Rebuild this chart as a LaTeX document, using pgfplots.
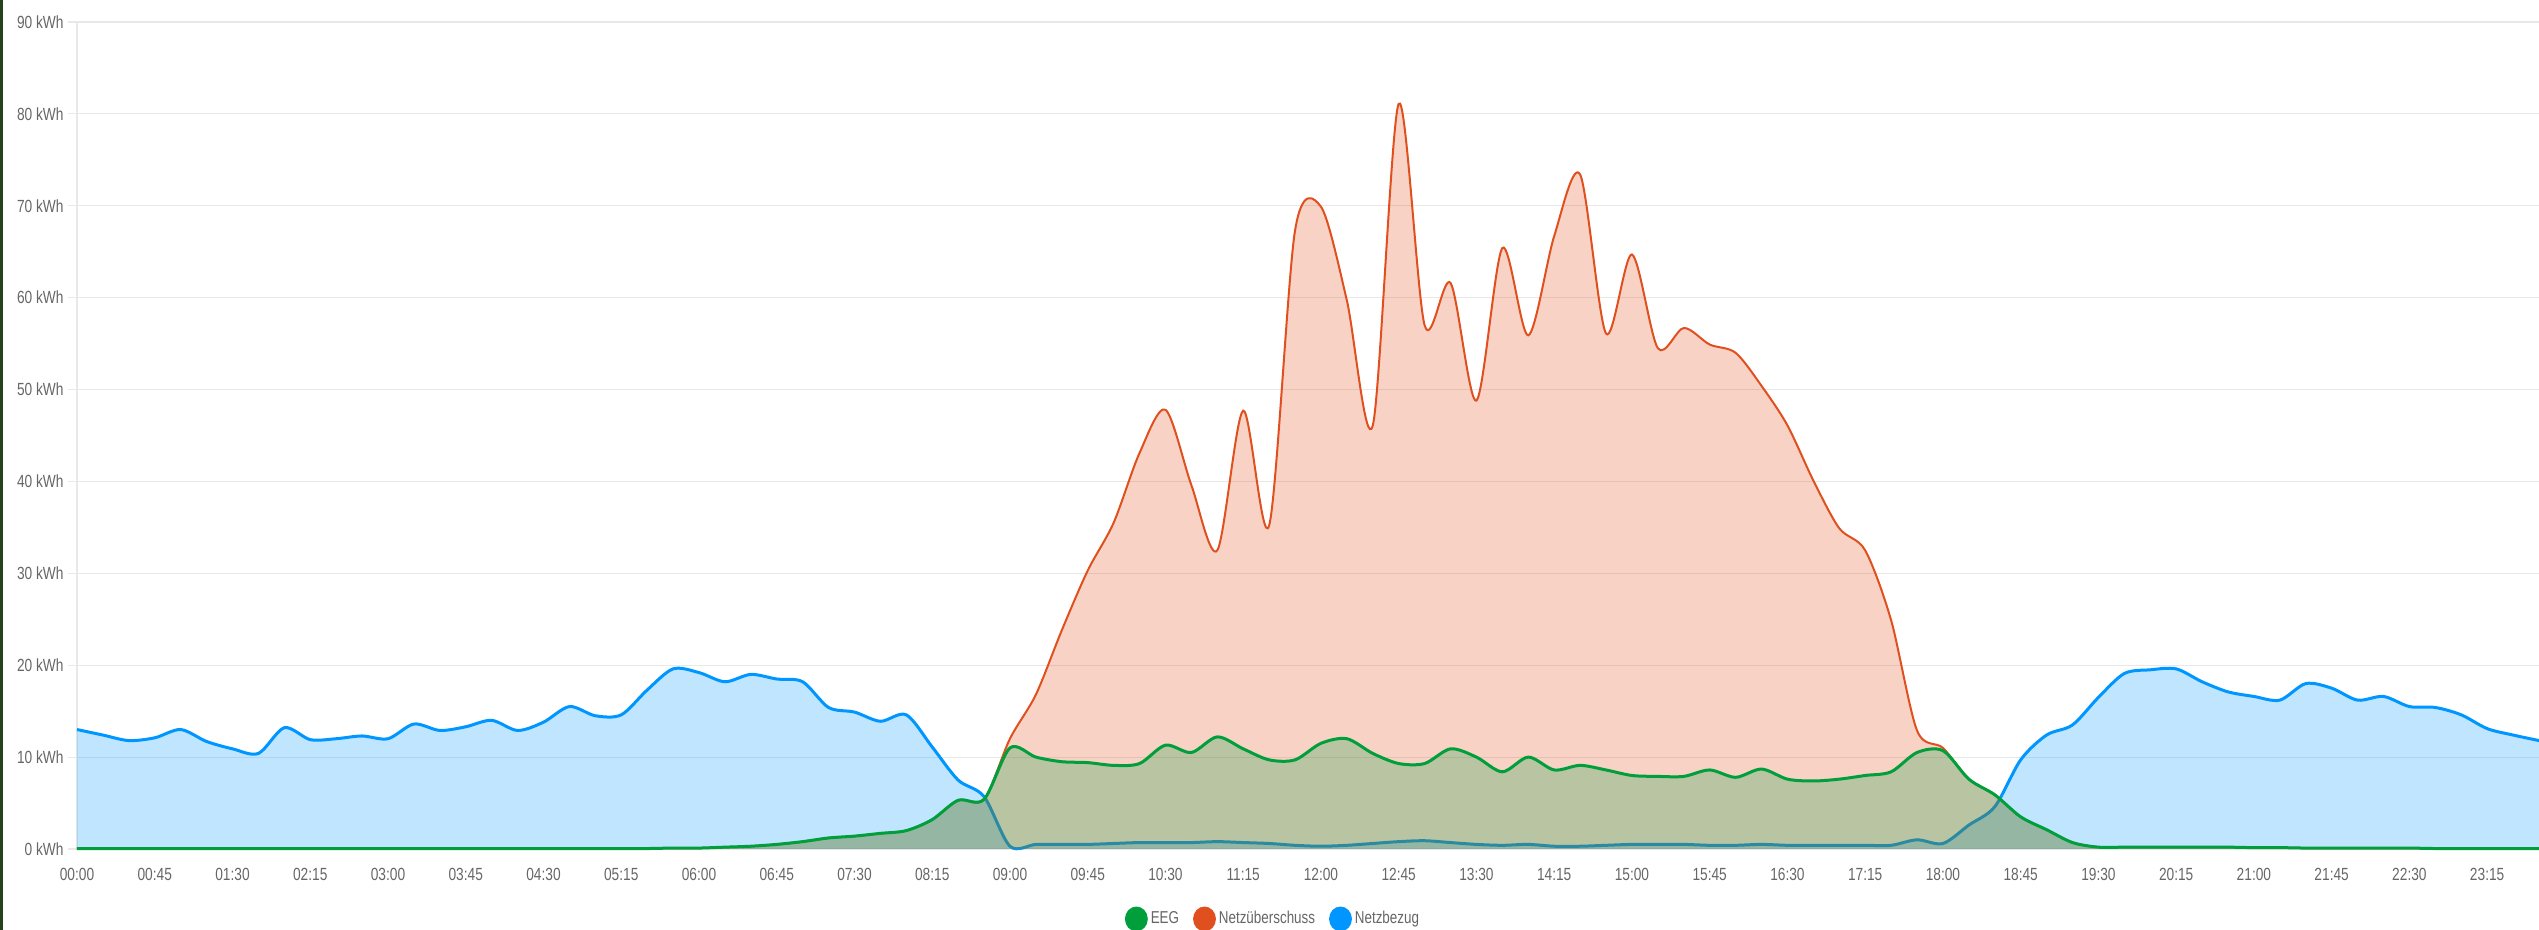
\documentclass[border=0pt]{standalone}
\usepackage{fontspec}
\setmainfont{Liberation Sans}[FakeStretch=0.78]
\usepackage{pgfplots}
\usepackage{pgfplotstable}
\pgfplotsset{compat=1.18}
\definecolor{eeg}{HTML}{009F3C}
\definecolor{ueb}{HTML}{E0501E}
\definecolor{bez}{HTML}{0096FF}
\definecolor{gridc}{HTML}{E8E8E8}
\definecolor{txt}{HTML}{666666}
\definecolor{strip}{HTML}{26421C}

\pgfplotstableread{
q bez eeg ueb
0 13.0 0.05 0.05
1 12.4 0.05 0.05
2 11.8 0.05 0.05
3 12.1 0.05 0.05
4 13.0 0.05 0.05
5 11.7 0.05 0.05
6 10.9 0.05 0.05
7 10.4 0.05 0.05
8 13.2 0.05 0.05
9 11.9 0.05 0.05
10 12.0 0.05 0.05
11 12.3 0.05 0.05
12 12.0 0.05 0.05
13 13.6 0.05 0.05
14 12.9 0.05 0.05
15 13.3 0.05 0.05
16 14.0 0.05 0.05
17 12.9 0.05 0.05
18 13.8 0.05 0.05
19 15.5 0.05 0.05
20 14.5 0.05 0.05
21 14.6 0.05 0.05
22 17.3 0.05 0.05
23 19.6 0.1 0.1
24 19.2 0.1 0.1
25 18.2 0.2 0.2
26 19.0 0.3 0.3
27 18.5 0.5 0.5
28 18.2 0.8 0.8
29 15.4 1.2 1.2
30 14.9 1.4 1.4
31 13.9 1.7 1.7
32 14.6 2.0 2.0
33 11.1 3.2 3.2
34 7.5 5.3 5.3
35 5.7 5.4 5.4
36 0.3 11.0 12.0
37 0.5 10.0 16.8
38 0.5 9.5 23.8
39 0.5 9.4 30.3
40 0.6 9.1 35.5
41 0.7 9.3 43.1
42 0.7 11.3 47.8
43 0.7 10.5 39.6
44 0.8 12.2 32.5
45 0.7 10.9 47.7
46 0.6 9.7 35.2
47 0.4 9.7 67.3
48 0.3 11.5 69.9
49 0.4 12.0 59.7
50 0.6 10.4 46.1
51 0.8 9.3 81.1
52 0.9 9.3 57.0
53 0.7 10.9 61.6
54 0.5 10.0 48.8
55 0.4 8.4 65.4
56 0.5 10.0 55.9
57 0.3 8.6 66.7
58 0.3 9.1 73.4
59 0.4 8.6 56.1
60 0.5 8.0 64.7
61 0.5 7.9 54.5
62 0.5 7.9 56.7
63 0.4 8.6 54.9
64 0.4 7.8 54.0
65 0.5 8.7 50.4
66 0.4 7.6 46.1
67 0.4 7.4 40.1
68 0.4 7.6 34.9
69 0.4 8.0 32.5
70 0.4 8.4 24.9
71 1.0 10.5 12.9
72 0.6 10.7 11.0
73 2.6 7.6 7.6
74 4.6 5.9 5.9
75 9.7 3.5 3.5
76 12.4 2.1 2.1
77 13.5 0.7 0.7
78 16.5 0.2 0.2
79 19.1 0.2 0.2
80 19.5 0.2 0.2
81 19.6 0.2 0.2
82 18.2 0.2 0.2
83 17.1 0.2 0.2
84 16.6 0.15 0.15
85 16.2 0.15 0.15
86 18.0 0.1 0.1
87 17.5 0.1 0.1
88 16.2 0.1 0.1
89 16.6 0.1 0.1
90 15.5 0.1 0.1
91 15.4 0.05 0.05
92 14.6 0.05 0.05
93 13.1 0.05 0.05
94 12.4 0.05 0.05
95 11.8 0.05 0.05
}\data

\begin{document}
\begin{tikzpicture}
\begin{axis}[
  at={(0,0)}, anchor=south west,
  scale only axis, width=1231pt, height=413.5pt,
  xmin=0, xmax=95, ymin=0, ymax=90,
  clip=false,
  axis lines=left,
  axis line style={-, draw=gridc, line width=0.6pt},
  ymajorgrids, grid style={draw=gridc, line width=0.6pt},
  ytick={0,10,...,90},
  yticklabels={0 kWh,10 kWh,20 kWh,30 kWh,40 kWh,50 kWh,60 kWh,70 kWh,80 kWh,90 kWh},
  xtick={0,3,...,93},
  xticklabels={00:00,00:45,01:30,02:15,03:00,03:45,04:30,05:15,06:00,06:45,07:30,08:15,09:00,09:45,10:30,11:15,12:00,12:45,13:30,14:15,15:00,15:45,16:30,17:15,18:00,18:45,19:30,20:15,21:00,21:45,22:30,23:15},
  tick align=outside,
  major tick length=4.5pt,
  ytick style={draw=gridc, line width=0.6pt},
  xtick style={draw=none},
  tick label style={font=\fontsize{8.8}{10}\selectfont, text=txt},
  yticklabel style={anchor=east, inner sep=0pt, xshift=-2pt},
  xticklabel style={anchor=north, inner sep=0pt, yshift=-5pt},
  legend columns=3,
  legend style={draw=none, fill=none, at={(0.486,-0.0846)}, anchor=center,
    font=\fontsize{8.6}{10}\selectfont, text=txt,
    /tikz/every even column/.append style={column sep=5.5pt},
    nodes={inner xsep=1.5pt, inner ysep=0pt}},
]
\addlegendimage{legend image code/.code={\fill[eeg] (5.5pt,0pt) ellipse [x radius=5.5pt, y radius=6pt];}}
\addlegendentry{EEG}
\addlegendimage{legend image code/.code={\fill[ueb] (5.5pt,0pt) ellipse [x radius=5.5pt, y radius=6pt];}}
\addlegendentry{Netzüberschuss}
\addlegendimage{legend image code/.code={\fill[bez] (5.5pt,0pt) ellipse [x radius=5.5pt, y radius=6pt];}}
\addlegendentry{Netzbezug}

\addplot[forget plot, draw=none, fill=bez, fill opacity=0.25, smooth] table[x=q, y=bez] {\data} \closedcycle;
\addplot[forget plot, bez, line width=1.5pt, smooth] table[x=q, y=bez] {\data};
\addplot[forget plot, draw=none, fill=ueb, fill opacity=0.26, smooth] table[x=q, y=ueb] {\data} \closedcycle;
\addplot[forget plot, ueb, line width=1pt, smooth] table[x=q, y=ueb] {\data};
\addplot[forget plot, draw=none, fill=eeg, fill opacity=0.25, smooth] table[x=q, y=eeg] {\data} \closedcycle;
\addplot[forget plot, eeg, line width=1.5pt, smooth] table[x=q, y=eeg] {\data};
\end{axis}
\pgfresetboundingbox
\path (-38.5pt,-40.5pt) rectangle (1231pt,424.5pt);
\fill[strip] (-38.5pt,-40.5pt) rectangle (-37pt,424.5pt);
\end{tikzpicture}
\end{document}
